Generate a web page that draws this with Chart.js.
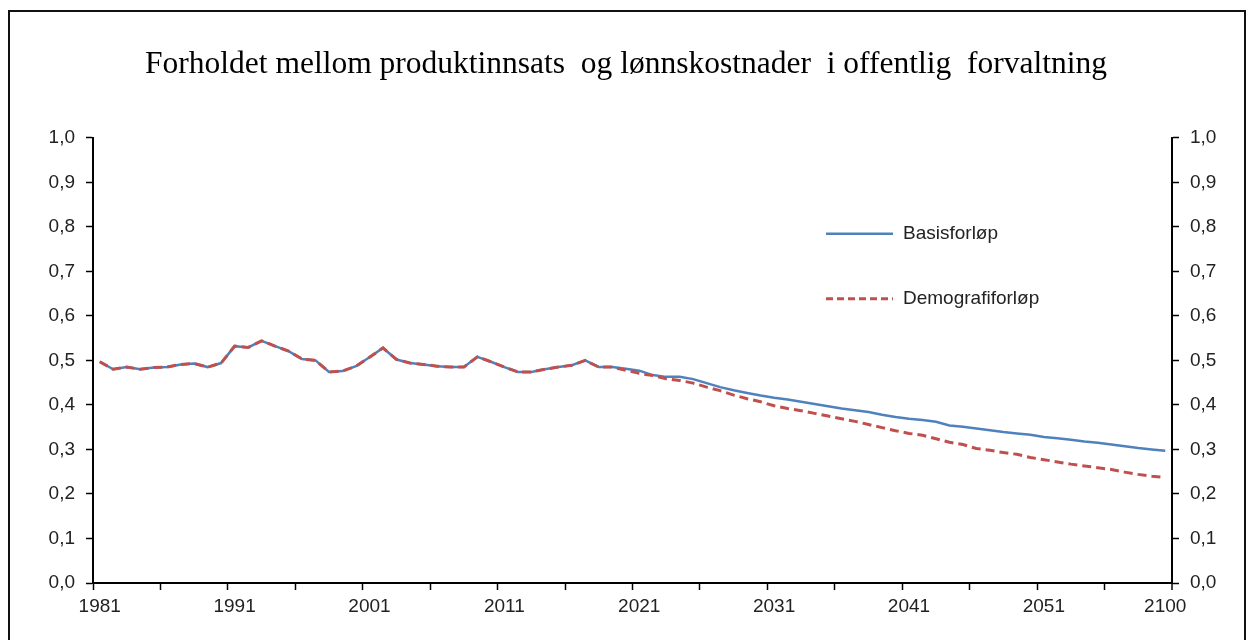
<!DOCTYPE html>
<html lang="no">
<head>
<meta charset="utf-8">
<title>Produktinnsats og lønnskostnader</title>
<script src="https://cdn.jsdelivr.net/npm/chart.js@4.4.1/dist/chart.umd.min.js"></script>
<style>
  html, body { margin: 0; padding: 0; background: #fff; }
  #wrap { position: relative; width: 1252px; height: 640px; overflow: hidden; }
  #frame { position: absolute; left: 8px; top: 10px; width: 1238px; height: 700px;
           border: 2px solid #111; box-sizing: border-box; pointer-events: none; }
  canvas { position: absolute; left: 0; top: 0; }
</style>
</head>
<body>
<div id="wrap">
  <canvas id="chart" width="1252" height="640"></canvas>
  <div id="frame"></div>
</div>
<script>
// Kategorier: årlige verdier 1981-2059, siste punkt er 2100
const years = [
  '1981','1982','1983','1984','1985','1986','1987','1988','1989','1990',
  '1991','1992','1993','1994','1995','1996','1997','1998','1999','2000',
  '2001','2002','2003','2004','2005','2006','2007','2008','2009','2010',
  '2011','2012','2013','2014','2015','2016','2017','2018','2019','2020',
  '2021','2022','2023','2024','2025','2026','2027','2028','2029','2030',
  '2031','2032','2033','2034','2035','2036','2037','2038','2039','2040',
  '2041','2042','2043','2044','2045','2046','2047','2048','2049','2050',
  '2051','2052','2053','2054','2055','2056','2057','2058','2059','2100'
];

// Årstall som får tekst under x-aksen
const xLabelYears = ['1981','1991','2001','2011','2021','2031','2041','2051','2100'];

// Verdier på y-aksene
const yTickValues = [0, 0.1, 0.2, 0.3, 0.4, 0.5, 0.6, 0.7, 0.8, 0.9, 1.0];

// Felles historikk 1981-2019
const historikk = [
  0.497, 0.480, 0.485, 0.480, 0.484, 0.485, 0.491, 0.493, 0.485, 0.494,
  0.532, 0.529, 0.544, 0.532, 0.521, 0.503, 0.500, 0.474, 0.476, 0.487,
  0.507, 0.528, 0.502, 0.494, 0.491, 0.487, 0.485, 0.485, 0.508, 0.497,
  0.485, 0.474, 0.474, 0.480, 0.485, 0.489, 0.500, 0.485, 0.485
];

// Framskrivinger fra 2020
const basisFram = [
  0.481, 0.477, 0.467, 0.463, 0.463, 0.458, 0.449, 0.440, 0.433, 0.427,
  0.421, 0.416, 0.412, 0.407, 0.402, 0.397, 0.392, 0.388, 0.384, 0.378,
  0.373, 0.369, 0.366, 0.362, 0.354, 0.351, 0.347, 0.343, 0.339, 0.336,
  0.333, 0.328, 0.325, 0.322, 0.318, 0.315, 0.311, 0.307, 0.303, 0.300,
  0.297
];
const demografiFram = [
  0.478, 0.471, 0.466, 0.459, 0.455, 0.449, 0.440, 0.432, 0.422, 0.414,
  0.407, 0.398, 0.392, 0.387, 0.381, 0.375, 0.369, 0.363, 0.356, 0.349,
  0.342, 0.336, 0.332, 0.324, 0.316, 0.311, 0.302, 0.298, 0.293, 0.289,
  0.282, 0.277, 0.272, 0.267, 0.263, 0.259, 0.255, 0.249, 0.244, 0.240,
  0.237
];

const basis = historikk.concat(basisFram);
const demografi = historikk.concat(demografiFram);

const BLUE = '#4F81BD';
const RED = '#C0504D';
const tickFont = { family: "'Liberation Sans', Arial, sans-serif", size: 19 };

// Forklaring inne i plottet, pluss avsluttende strek på x-aksen
const innerLegend = {
  id: 'innerLegend',
  afterDraw(chart) {
    const { ctx, chartArea } = chart;
    const items = chart.data.datasets.slice().sort((a, b) => b.order - a.order);
    const x0 = chartArea.left + 733;
    ctx.save();
    items.forEach((ds, i) => {
      const y = chartArea.top + 96 + i * 65;
      ctx.strokeStyle = ds.borderColor;
      ctx.lineWidth = ds.borderWidth;
      ctx.setLineDash(ds.borderDash ? [7, 4] : []);
      ctx.beginPath();
      ctx.moveTo(x0, y);
      ctx.lineTo(x0 + 67, y);
      ctx.stroke();
      ctx.setLineDash([]);
      ctx.fillStyle = '#222';
      ctx.font = `${tickFont.size}px ${tickFont.family}`;
      ctx.textBaseline = 'middle';
      ctx.fillText(ds.label, x0 + 77, y);
    });
    ctx.strokeStyle = '#000';
    ctx.lineWidth = 1.5;
    ctx.beginPath();
    ctx.moveTo(chartArea.right, chartArea.bottom);
    ctx.lineTo(chartArea.right, chartArea.bottom + 7);
    ctx.stroke();
    ctx.restore();
  }
};

function yAxis(position, width) {
  return {
    position,
    min: 0,
    max: 1,
    grid: { drawOnChartArea: false, tickLength: 7, color: '#000', tickWidth: 1.5 },
    border: { color: '#000', width: 2 },
    ticks: {
      padding: 11,
      color: '#222',
      font: tickFont,
      callback: v => v.toFixed(1).replace('.', ',')
    },
    afterBuildTicks: s => { s.ticks = yTickValues.map(v => ({ value: v })); },
    afterFit: s => { s.width = width; }
  };
}

new Chart(document.getElementById('chart'), {
  type: 'line',
  data: {
    labels: years,
    datasets: [
      {
        label: 'Basisforløp',
        data: basis,
        borderColor: BLUE,
        borderWidth: 2.5,
        pointRadius: 0,
        tension: 0,
        order: 1
      },
      {
        label: 'Demografiforløp',
        data: demografi,
        borderColor: RED,
        borderWidth: 3,
        borderDash: [9, 5],
        pointRadius: 0,
        tension: 0,
        order: 0
      }
    ]
  },
  options: {
    responsive: false,
    animation: false,
    layout: { padding: { left: 0, right: 0, top: 0, bottom: 22 } },
    plugins: {
      legend: { display: false },
      tooltip: { enabled: false },
      title: {
        display: true,
        text: 'Forholdet mellom produktinnsats  og lønnskostnader  i offentlig  forvaltning',
        color: '#000',
        font: { family: "'Liberation Serif', 'Times New Roman', serif", size: 31.5, weight: 'normal' },
        padding: { top: 46, bottom: 54 }
      }
    },
    scales: {
      x: {
        type: 'category',
        offset: true,
        grid: {
          offset: true,
          drawOnChartArea: false,
          tickLength: 7,
          tickWidth: 1.5,
          tickColor: c => (c.index % 5 === 0 ? '#000' : 'rgba(0,0,0,0)')
        },
        border: { color: '#000', width: 2 },
        ticks: {
          autoSkip: false,
          maxRotation: 0,
          padding: 5,
          color: '#222',
          font: tickFont,
          callback: (v, i) => (xLabelYears.includes(years[i]) ? years[i] : '')
        },
        afterFit: s => { s.height = 35; }
      },
      y: yAxis('left', 93),
      y2: yAxis('right', 80)
    }
  },
  plugins: [innerLegend]
});
</script>
</body>
</html>
